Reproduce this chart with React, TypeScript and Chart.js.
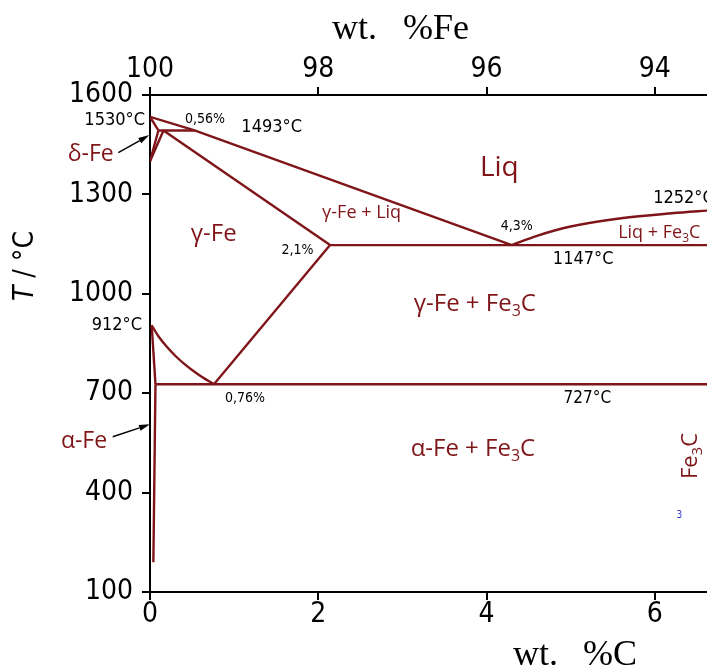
import { useEffect, useRef } from "react";
import { Chart, registerables } from "chart.js";
Chart.register(...registerables);

const RED = "#7f1519";
const SANS = "'DejaVu Sans Condensed', 'DejaVu Sans'";
const LABEL_SANS = "'Open Sans'";
const SERIF = "'Liberation Serif'";

// Phase boundaries: wt.% C and temperature (°C)
const liqDeltaC = [0, 0.53, 4.3];
const liqDeltaT = [1534, 1493, 1147];
const liqCemC = [4.3, 4.6, 5.0, 5.6, 6.2, 6.67];
const liqCemT = [1147, 1175, 1203, 1228, 1243, 1252];
const eutecticC = [2.14, 6.67];
const eutecticT = [1147, 1147];
const eutectoidC = [0.07, 6.67];
const eutectoidT = [727, 727];
const a3C = [0.02, 0.1, 0.2, 0.3, 0.4, 0.5, 0.6, 0.76];
const a3T = [905, 872, 840, 813, 790, 770, 752, 727];
const acmC = [0.76, 2.14];
const acmT = [727, 1147];
const gammaSolidusC = [0.16, 2.14];
const gammaSolidusT = [1493, 1147];
const peritecticC = [0.1, 0.53];
const peritecticT = [1493, 1493];
const deltaSolidusC = [0, 0.1];
const deltaSolidusT = [1534, 1493];
const deltaBoundC = [0, 0.1];
const deltaBoundT = [1400, 1493];
const gammaBoundC = [0, 0.16];
const gammaBoundT = [1400, 1493];
const alphaBoundC = [0.02, 0.065];
const alphaBoundT = [905, 727];
const alphaSolvusC = [0.065, 0.04];
const alphaSolvusT = [727, 190];

// ticks
const xTicksC = [0, 2, 4, 6];
const xTicksFe = [100, 98, 96, 94];
const yTicksT = [100, 400, 700, 1000, 1300, 1600];

const X_MAX = 6.62;

type Part = { t: string; sub?: boolean; italic?: boolean };
type Label = {
  parts: Part[];
  c: number;
  T: number;
  size: number;
  family: string;
  color: string;
  align: "left" | "right" | "center";
  rotate?: boolean;
};

const f3c: Part[] = [{ t: "Fe" }, { t: "3", sub: true }, { t: "C" }];

const labels: Label[] = [
  { parts: [{ t: "1530°C" }], c: -0.06, T: 1524.5, size: 18, family: SANS, color: "#000", align: "right" },
  { parts: [{ t: "0,56%" }], c: 0.653, T: 1526, size: 14, family: SANS, color: "#000", align: "center" },
  { parts: [{ t: "1493°C" }], c: 1.446, T: 1502.5, size: 18, family: SANS, color: "#000", align: "center" },
  { parts: [{ t: "δ-Fe" }], c: -0.705, T: 1421.9, size: 23, family: LABEL_SANS, color: RED, align: "center" },
  { parts: [{ t: "Liq" }], c: 4.152, T: 1379.6, size: 28, family: LABEL_SANS, color: RED, align: "center" },
  { parts: [{ t: "γ-Fe" }], c: 0.757, T: 1180.4, size: 24, family: LABEL_SANS, color: RED, align: "center" },
  { parts: [{ t: "γ-Fe + Liq" }], c: 2.515, T: 1245.3, size: 18, family: LABEL_SANS, color: RED, align: "center" },
  { parts: [{ t: "2,1%" }], c: 1.752, T: 1132.1, size: 14, family: SANS, color: "#000", align: "center" },
  { parts: [{ t: "4,3%" }], c: 4.36, T: 1204.6, size: 14, family: SANS, color: "#000", align: "center" },
  { parts: [{ t: "1252°C" }], c: 5.98, T: 1289.1, size: 18, family: SANS, color: "#000", align: "left" },
  { parts: [{ t: "Liq + " }, ...f3c], c: 5.564, T: 1183.5, size: 18, family: LABEL_SANS, color: RED, align: "left" },
  { parts: [{ t: "1147°C" }], c: 5.148, T: 1105, size: 18, family: SANS, color: "#000", align: "center" },
  { parts: [{ t: "γ-Fe + " }, ...f3c], c: 3.861, T: 967.6, size: 24, family: LABEL_SANS, color: RED, align: "center" },
  { parts: [{ t: "912°C" }], c: -0.095, T: 906, size: 18, family: SANS, color: "#000", align: "right" },
  { parts: [{ t: "0,76%" }], c: 1.129, T: 685.4, size: 14, family: SANS, color: "#000", align: "center" },
  { parts: [{ t: "727°C" }], c: 5.198, T: 682.4, size: 17, family: SANS, color: "#000", align: "center" },
  { parts: [{ t: "α-Fe" }], c: -0.784, T: 555.6, size: 23, family: LABEL_SANS, color: RED, align: "center" },
  { parts: [{ t: "α-Fe + " }, ...f3c], c: 3.838, T: 531.5, size: 24, family: LABEL_SANS, color: RED, align: "center" },
  { parts: f3c, c: 6.428, T: 510.4, size: 22, family: LABEL_SANS, color: RED, align: "center", rotate: true },
  { parts: [{ t: "3" }], c: 6.291, T: 332.2, size: 10, family: SANS, color: "#3838d0", align: "center" },
];

const arrows = [
  { c0: -0.377, T0: 1425.8, c1: -0.008, T1: 1479 },
  { c0: -0.443, T0: 568.6, c1: 0, T1: 606 },
];

function drawParts(
  ctx: CanvasRenderingContext2D,
  parts: Part[],
  x: number,
  y: number,
  size: number,
  family: string,
  color: string,
  align: "left" | "right" | "center"
) {
  const fonts = parts.map(
    (p) => `${p.italic ? "italic " : ""}${p.sub ? Math.round(size * 0.68) : size}px ${family}`
  );
  const widths = parts.map((p, i) => {
    ctx.font = fonts[i];
    return ctx.measureText(p.t).width;
  });
  const total = widths.reduce((a, b) => a + b, 0);
  let sx = align === "left" ? x : align === "right" ? x - total : x - total / 2;
  ctx.fillStyle = color;
  ctx.textAlign = "left";
  ctx.textBaseline = "middle";
  parts.forEach((p, i) => {
    ctx.font = fonts[i];
    ctx.fillText(p.t, sx, y + (p.sub ? size * 0.3 : 0));
    sx += widths[i];
  });
}

const annotPlugin = {
  id: "annot",
  afterDraw(chart: any) {
    const ctx: CanvasRenderingContext2D = chart.ctx;
    const xs = chart.scales.x;
    const ys = chart.scales.y;
    ctx.save();
    for (const l of labels) {
      const px = xs.getPixelForValue(l.c);
      const py = ys.getPixelForValue(l.T);
      if (l.rotate) {
        ctx.save();
        ctx.translate(px, py);
        ctx.rotate(-Math.PI / 2);
        drawParts(ctx, l.parts, 0, 0, l.size, l.family, l.color, "center");
        ctx.restore();
      } else {
        drawParts(ctx, l.parts, px, py, l.size, l.family, l.color, l.align);
      }
    }
    // arrows
    for (const a of arrows) {
      const x0 = xs.getPixelForValue(a.c0);
      const y0 = ys.getPixelForValue(a.T0);
      const x1 = xs.getPixelForValue(a.c1);
      const y1 = ys.getPixelForValue(a.T1);
      const ang = Math.atan2(y1 - y0, x1 - x0);
      const hl = 11;
      const hw = 3;
      const bx = x1 - hl * Math.cos(ang);
      const by = y1 - hl * Math.sin(ang);
      ctx.strokeStyle = "#000";
      ctx.lineWidth = 1.4;
      ctx.beginPath();
      ctx.moveTo(x0, y0);
      ctx.lineTo(bx, by);
      ctx.stroke();
      ctx.fillStyle = "#000";
      ctx.beginPath();
      ctx.moveTo(x1, y1);
      ctx.lineTo(bx + hw * Math.sin(ang), by - hw * Math.cos(ang));
      ctx.lineTo(bx - hw * Math.sin(ang), by + hw * Math.cos(ang));
      ctx.closePath();
      ctx.fill();
    }
    // axis titles
    ctx.fillStyle = "#000";
    ctx.textBaseline = "alphabetic";
    ctx.font = `36px ${SERIF}`;
    ctx.textAlign = "left";
    ctx.fillText("wt.", 332, 39);
    ctx.textAlign = "right";
    ctx.fillText("%Fe", 469, 39);
    ctx.textAlign = "left";
    ctx.fillText("wt.", 513, 665);
    ctx.textAlign = "right";
    ctx.fillText("%C", 637, 665);
    ctx.save();
    ctx.translate(26, 266);
    ctx.rotate(-Math.PI / 2);
    drawParts(ctx, [{ t: "T", italic: true }, { t: " / °C" }], 0, 0, 28, SANS, "#000", "center");
    ctx.restore();
    ctx.restore();
  },
};

function series(c: number[], t: number[], smooth = false) {
  return {
    data: c.map((v, i) => ({ x: v, y: t[i] })),
    showLine: true,
    borderColor: RED,
    borderWidth: 2.4,
    pointRadius: 0,
    fill: false,
    tension: smooth ? 0.4 : 0,
    cubicInterpolationMode: smooth ? ("monotone" as const) : ("default" as const),
  };
}

const gridCfg = {
  display: true,
  drawOnChartArea: false,
  drawTicks: true,
  tickLength: 8,
  color: "#000",
  lineWidth: 2,
};
const borderCfg = { display: true, color: "#000", width: 2 };
const tickFont = { family: SANS, size: 28 };

export default function App() {
  const ref = useRef<HTMLCanvasElement | null>(null);
  useEffect(() => {
    if (!ref.current) return;
    const chart = new Chart(ref.current, {
      type: "scatter",
      data: {
        datasets: [
          series(liqDeltaC, liqDeltaT),
          series(liqCemC, liqCemT, true),
          series(eutecticC, eutecticT),
          series(eutectoidC, eutectoidT),
          series(a3C, a3T, true),
          series(acmC, acmT),
          series(gammaSolidusC, gammaSolidusT),
          series(peritecticC, peritecticT),
          series(deltaSolidusC, deltaSolidusT),
          series(deltaBoundC, deltaBoundT),
          series(gammaBoundC, gammaBoundT),
          series(alphaBoundC, alphaBoundT),
          series(alphaSolvusC, alphaSolvusT),
        ] as any,
      },
      options: {
        animation: false,
        responsive: false,
        devicePixelRatio: 1,
        layout: { padding: 0 },
        plugins: { legend: { display: false }, tooltip: { enabled: false } },
        scales: {
          x: {
            type: "linear",
            position: "bottom",
            min: 0,
            max: X_MAX,
            afterBuildTicks: (s: any) => {
              s.ticks = xTicksC.map((v) => ({ value: v }));
            },
            afterFit: (s: any) => {
              s.height = 79;
            },
            grid: gridCfg,
            border: borderCfg,
            ticks: {
              font: tickFont,
              color: "#000",
              padding: -2,
              maxRotation: 0,
              autoSkip: false,
              callback: (v: any) => String(v),
            },
          },
          x2: {
            type: "linear",
            position: "top",
            reverse: true,
            min: 100 - X_MAX,
            max: 100,
            afterBuildTicks: (s: any) => {
              s.ticks = xTicksFe.map((v) => ({ value: v }));
            },
            afterFit: (s: any) => {
              s.height = 95;
            },
            grid: gridCfg,
            border: borderCfg,
            ticks: {
              font: tickFont,
              color: "#000",
              padding: 0,
              maxRotation: 0,
              autoSkip: false,
              callback: (v: any) => String(v),
            },
          },
          y: {
            type: "linear",
            position: "left",
            min: 100,
            max: 1600,
            afterBuildTicks: (s: any) => {
              s.ticks = yTicksT.map((v) => ({ value: v }));
            },
            afterFit: (s: any) => {
              s.width = 150;
            },
            grid: gridCfg,
            border: borderCfg,
            ticks: {
              font: tickFont,
              color: "#000",
              padding: 9,
              autoSkip: false,
              callback: (v: any) => String(v),
            },
          },
        },
      } as any,
      plugins: [annotPlugin],
    });
    return () => chart.destroy();
  }, []);
  return (
    <div>
      <canvas
        ref={ref}
        width={707}
        height={671}
        style={{ position: "fixed", left: 0, top: 0, width: 707, height: 671, display: "block" }}
      />
    </div>
  );
}
